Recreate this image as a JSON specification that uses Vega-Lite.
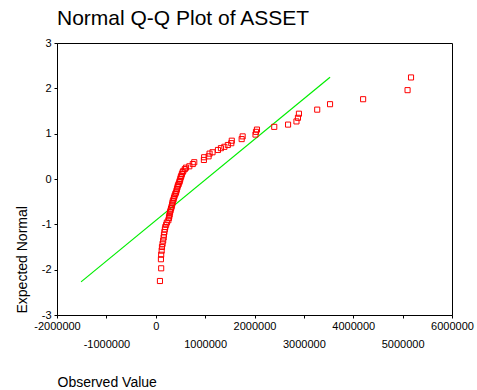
{
  "$schema": "https://vega.github.io/schema/vega-lite/v6.json",
  "width": 395,
  "height": 272,
  "autosize": {"type": "none"},
  "padding": {"left": 57, "top": 43, "right": 25, "bottom": 75},
  "background": "white",
  "title": {
    "text": "Normal Q-Q Plot of ASSET",
    "anchor": "start",
    "frame": "group",
    "font": "Liberation Sans",
    "fontSize": 21,
    "fontWeight": "normal",
    "color": "black",
    "baseline": "alphabetic",
    "offset": -9
  },
  "config": {
    "view": {"stroke": "black", "strokeWidth": 1},
    "axis": {
      "grid": false,
      "domainColor": "black",
      "tickColor": "black",
      "tickSize": 3,
      "labelColor": "black",
      "labelFont": "Liberation Sans",
      "labelFontSize": 11,
      "titleFont": "Liberation Sans",
      "titleFontSize": 14,
      "titleFontWeight": "normal",
      "titleColor": "black"
    }
  },
  "datasets": {
    "points": [
      {"observed": 85000, "expected": -2.25},
      {"observed": 110000, "expected": -1.97},
      {"observed": 105000, "expected": -1.77},
      {"observed": 110000, "expected": -1.67},
      {"observed": 120000, "expected": -1.58},
      {"observed": 126000, "expected": -1.5},
      {"observed": 138000, "expected": -1.43},
      {"observed": 150000, "expected": -1.36},
      {"observed": 160000, "expected": -1.29},
      {"observed": 166000, "expected": -1.23},
      {"observed": 175000, "expected": -1.17},
      {"observed": 185000, "expected": -1.11},
      {"observed": 193000, "expected": -1.06},
      {"observed": 210000, "expected": -1.01},
      {"observed": 225000, "expected": -0.96},
      {"observed": 255000, "expected": -0.91},
      {"observed": 268000, "expected": -0.86},
      {"observed": 274000, "expected": -0.82},
      {"observed": 282000, "expected": -0.78},
      {"observed": 290000, "expected": -0.73},
      {"observed": 300000, "expected": -0.69},
      {"observed": 310000, "expected": -0.65},
      {"observed": 322000, "expected": -0.61},
      {"observed": 330000, "expected": -0.57},
      {"observed": 338000, "expected": -0.53},
      {"observed": 345000, "expected": -0.49},
      {"observed": 360000, "expected": -0.45},
      {"observed": 370000, "expected": -0.41},
      {"observed": 382000, "expected": -0.37},
      {"observed": 395000, "expected": -0.33},
      {"observed": 410000, "expected": -0.3},
      {"observed": 420000, "expected": -0.26},
      {"observed": 430000, "expected": -0.22},
      {"observed": 440000, "expected": -0.18},
      {"observed": 450000, "expected": -0.14},
      {"observed": 465000, "expected": -0.11},
      {"observed": 477000, "expected": -0.07},
      {"observed": 487000, "expected": -0.04},
      {"observed": 497000, "expected": 0.0},
      {"observed": 507000, "expected": 0.04},
      {"observed": 518000, "expected": 0.07},
      {"observed": 530000, "expected": 0.11},
      {"observed": 544000, "expected": 0.15},
      {"observed": 560000, "expected": 0.18},
      {"observed": 590000, "expected": 0.22},
      {"observed": 613000, "expected": 0.25},
      {"observed": 680000, "expected": 0.28},
      {"observed": 750000, "expected": 0.33},
      {"observed": 780000, "expected": 0.37},
      {"observed": 975000, "expected": 0.42},
      {"observed": 980000, "expected": 0.48},
      {"observed": 1070000, "expected": 0.5},
      {"observed": 1090000, "expected": 0.56},
      {"observed": 1150000, "expected": 0.59},
      {"observed": 1260000, "expected": 0.64},
      {"observed": 1320000, "expected": 0.68},
      {"observed": 1390000, "expected": 0.71},
      {"observed": 1460000, "expected": 0.75},
      {"observed": 1530000, "expected": 0.79},
      {"observed": 1540000, "expected": 0.845},
      {"observed": 1740000, "expected": 0.88},
      {"observed": 1760000, "expected": 0.94},
      {"observed": 2020000, "expected": 0.98},
      {"observed": 2030000, "expected": 1.04},
      {"observed": 2050000, "expected": 1.09},
      {"observed": 2400000, "expected": 1.15},
      {"observed": 2680000, "expected": 1.2},
      {"observed": 2850000, "expected": 1.27},
      {"observed": 2880000, "expected": 1.35},
      {"observed": 2900000, "expected": 1.44},
      {"observed": 3270000, "expected": 1.53},
      {"observed": 3530000, "expected": 1.65},
      {"observed": 4200000, "expected": 1.76},
      {"observed": 5100000, "expected": 1.96},
      {"observed": 5170000, "expected": 2.24}
    ],
    "refline": [
      {"observed": -1513000, "expected": -2.27},
      {"observed": 3530000, "expected": 2.245}
    ]
  },
  "layer": [
    {
      "data": {"name": "refline"},
      "mark": {"type": "line", "color": "#00ee00", "strokeWidth": 1.2, "clip": true},
      "encoding": {
        "x": {"field": "observed", "type": "quantitative"},
        "y": {"field": "expected", "type": "quantitative"}
      }
    },
    {
      "data": {"name": "points"},
      "mark": {"type": "point", "shape": "square", "filled": false, "color": "#ff0000", "strokeWidth": 1, "size": 26, "opacity": 1},
      "encoding": {
        "x": {
          "field": "observed",
          "type": "quantitative",
          "scale": {"domain": [-2000000, 6000000], "nice": false, "zero": false},
          "axis": {
            "title": "Observed Value",
            "values": [-2000000, -1000000, 0, 1000000, 2000000, 3000000, 4000000, 5000000, 6000000],
            "labelExpr": "(datum.value % 2000000 == 0) ? ('' + datum.value) : ['', '' + datum.value]",
            "labelLineHeight": 18,
            "labelPadding": 2,
            "labelOverlap": false,
            "labelFlush": false,
            "titleAnchor": "start",
            "titleAlign": "left",
            "titleBaseline": "alphabetic",
            "titleX": 0,
            "titleY": 71
          }
        },
        "y": {
          "field": "expected",
          "type": "quantitative",
          "scale": {"domain": [-3, 3], "nice": false, "zero": false},
          "axis": {
            "title": "Expected Normal",
            "values": [-3, -2, -1, 0, 1, 2, 3],
            "labelExpr": "'' + datum.value",
            "labelPadding": 3,
            "labelOverlap": false,
            "labelFlush": false,
            "titleAnchor": "start",
            "titleAlign": "left",
            "titleAngle": -90,
            "titleBaseline": "alphabetic",
            "titleX": -31,
            "titleY": 270
          }
        }
      }
    }
  ]
}
